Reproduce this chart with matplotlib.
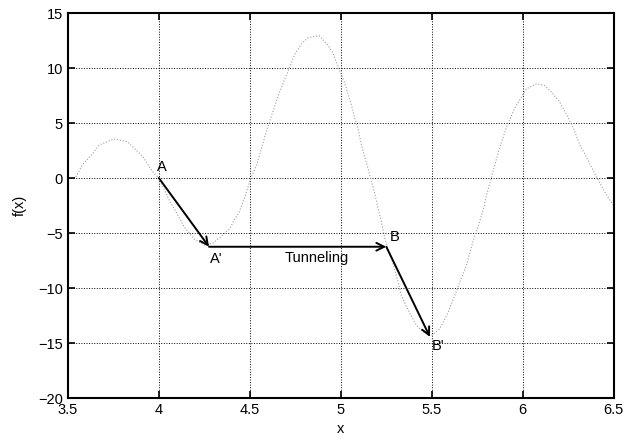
import matplotlib
matplotlib.use("Agg")
import matplotlib.pyplot as plt

plt.rcParams['font.family'] = ['Liberation Sans', 'DejaVu Sans']

# curve points
curve_x = [3.544, 3.58, 3.636, 3.672, 3.754, 3.828, 3.914, 3.943, 3.974, 4.0,
           4.057, 4.10, 4.139, 4.198, 4.25, 4.30, 4.35, 4.39, 4.418, 4.44,
           4.473, 4.504, 4.537, 4.564, 4.595, 4.614, 4.656, 4.692, 4.716, 4.745,
           4.784, 4.82, 4.88, 4.93, 4.954, 4.976, 5.02, 5.059, 5.077, 5.095,
           5.108, 5.126, 5.145, 5.165, 5.187, 5.205, 5.224, 5.242, 5.278, 5.315,
           5.333, 5.37, 5.416, 5.452, 5.50, 5.544, 5.59, 5.626, 5.654, 5.69,
           5.736, 5.754, 5.782, 5.80, 5.835, 5.87, 5.888, 5.91, 5.956, 6.02,
           6.075, 6.12, 6.158, 6.203, 6.243, 6.28, 6.313, 6.35, 6.396, 6.42,
           6.456, 6.478, 6.5]
curve_y = [0.1, 1.2, 2.2, 3.0, 3.55, 3.3, 1.9, 1.15, 0.4, 0.0,
           -2.0, -3.25, -4.45, -5.6, -6.1, -5.9, -5.2, -4.6, -3.7, -3.15,
           -1.73, -0.06, 1.15, 2.66, 4.48, 5.39, 7.5, 9.0, 9.94, 11.2,
           12.2, 12.75, 12.95, 12.05, 11.45, 10.5, 8.7, 6.6, 5.4, 4.48,
           3.4, 2.2, 1.15, -0.1, -1.43, -2.8, -4.0, -5.5, -7.3, -9.45,
           -10.7, -12.0, -13.4, -14.0, -14.3, -13.7, -12.2, -10.7, -9.45, -7.95,
           -5.2, -4.45, -2.95, -1.6, 0.5, 2.6, 3.5, 4.6, 6.36, 8.1,
           8.57, 8.4, 7.8, 6.9, 5.7, 4.48, 3.03, 1.9, 0.4, -0.36,
           -1.43, -2.0, -2.5]

# path of the search: A -> A' -> (tunnel) -> B -> B'
path_names = ['A', "A'", 'B', "B'"]
path_x = [4.0, 4.276, 5.25, 5.49]
path_y = [0.0, -6.25, -6.25, -14.45]

xticks = [3.5, 4, 4.5, 5, 5.5, 6, 6.5]
xticklabels = ['3.5', '4', '4.5', '5', '5.5', '6', '6.5']
yticks = [-20, -15, -10, -5, 0, 5, 10, 15]

fig = plt.figure(figsize=(6.4, 4.41), dpi=100)
ax = fig.add_axes([0.106, 0.0975, 0.853, 0.873])

ax.plot(curve_x, curve_y, ':', color='0.62', lw=0.8)

for i in range(len(path_x) - 1):
    ax.annotate('', xy=(path_x[i+1], path_y[i+1]), xytext=(path_x[i], path_y[i]),
                arrowprops=dict(arrowstyle='->', color='k', lw=1.4,
                                shrinkA=0, shrinkB=0, mutation_scale=14))

ax.text(3.99, 0.4, path_names[0], fontsize=10.5, ha='left', va='bottom')
ax.text(4.28, -6.7, path_names[1], fontsize=10.5, ha='left', va='top')
ax.text(4.87, -6.6, 'Tunneling', fontsize=10.5, ha='center', va='top')
ax.text(5.27, -5.4, path_names[2], fontsize=10.5, ha='left', va='center')
ax.text(5.5, -14.6, path_names[3], fontsize=10.5, ha='left', va='top')

ax.set_xlim(3.5, 6.5)
ax.set_ylim(-20, 15)
ax.set_xticks(xticks)
ax.set_xticklabels(xticklabels)
ax.set_yticks(yticks)
ax.grid(True, linestyle=':', color='k', lw=0.7)
ax.tick_params(direction='in', length=5, width=1.2, labelsize=10.5,
               top=True, right=True)
for s in ax.spines.values():
    s.set_linewidth(1.5)

ax.set_xlabel('x', fontsize=10.5)
ax.set_ylabel('f(x)', fontsize=10.5, labelpad=8)

fig.savefig('out.png', dpi=100)
